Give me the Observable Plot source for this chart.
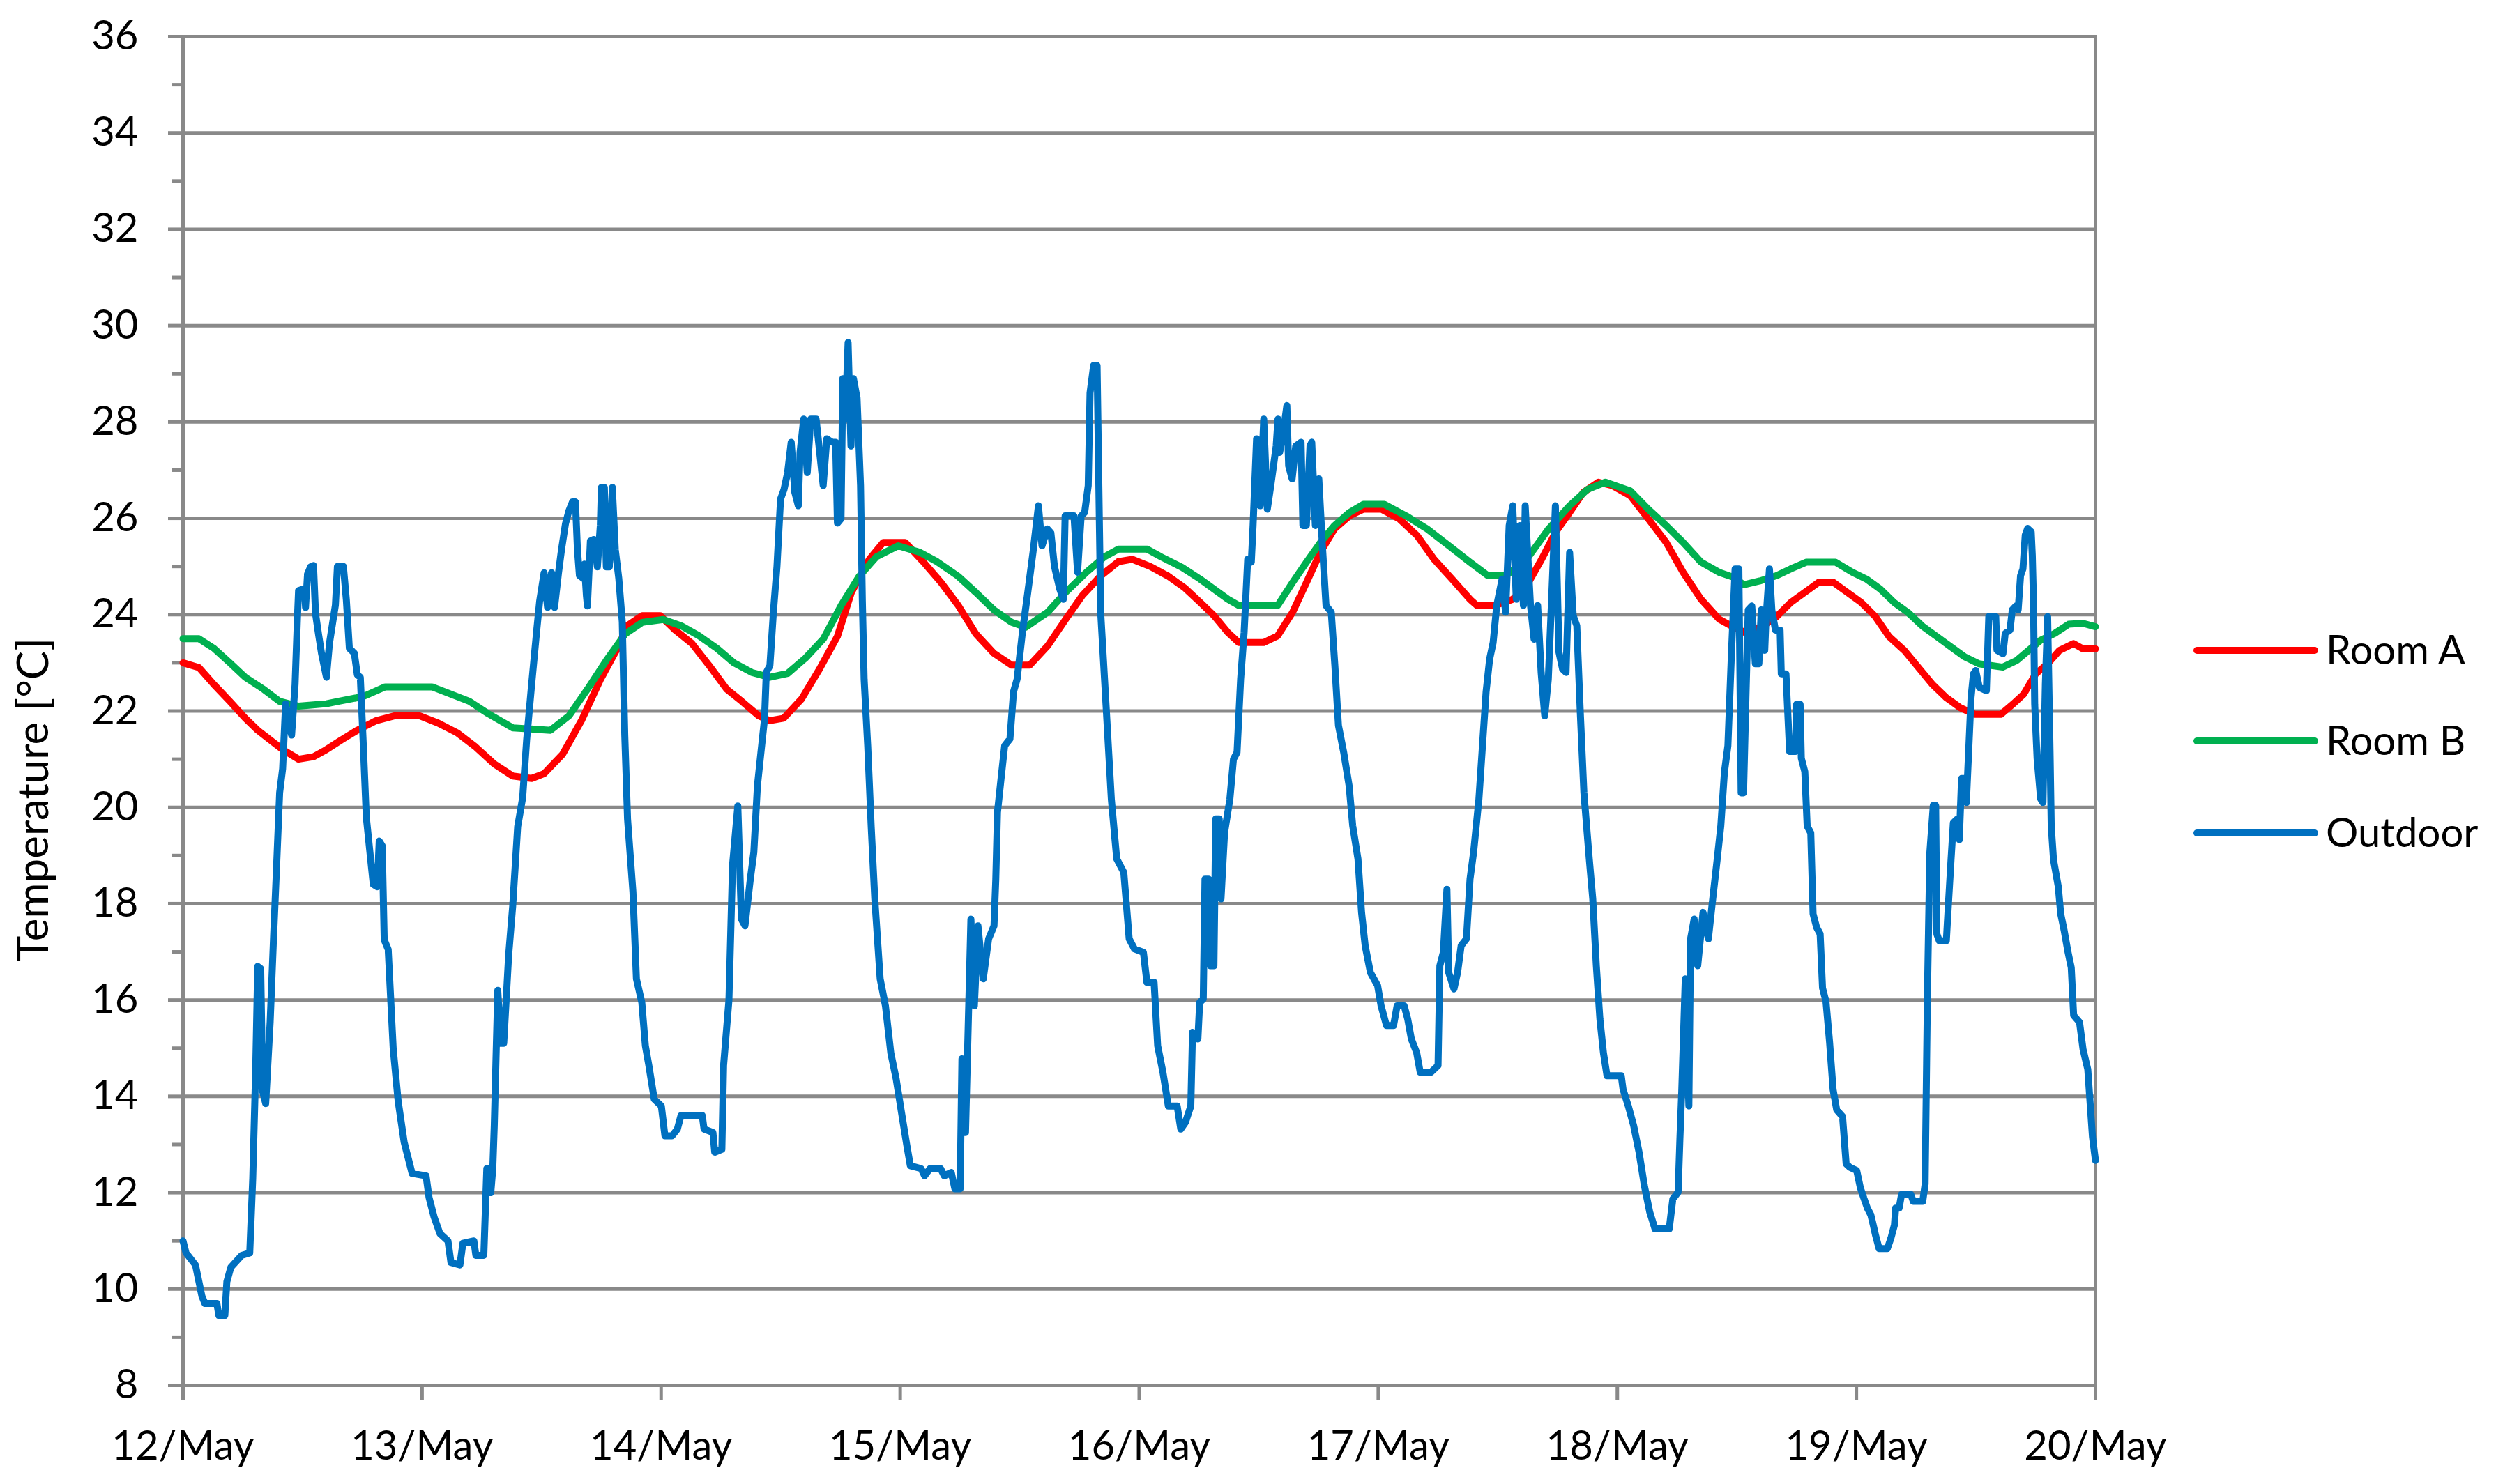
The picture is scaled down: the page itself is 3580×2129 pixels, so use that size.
<!DOCTYPE html>
<html>
<head>
<meta charset="utf-8">
<script src="https://cdn.jsdelivr.net/npm/d3@7"></script>
<script src="https://cdn.jsdelivr.net/npm/@observablehq/plot@0.6"></script>
<style>
  html, body { margin: 0; padding: 0; background: #fff; }
  #chart { position: relative; width: 3580px; height: 2129px; font-family: Lato, "Open Sans", sans-serif; }
  #legend { position: absolute; left: 0; top: 0; pointer-events: none; }
</style>
</head>
<body>
<div id="chart"></div>
<script>
// ---- data (hours since 12 May 00:00, temperature °C) ----
const seriesNames = ["Room A", "Room B", "Outdoor"];
const seriesColors = ["#FF0000", "#00B050", "#0070C0"];
const dayLabels = ["12/May", "13/May", "14/May", "15/May", "16/May", "17/May", "18/May", "19/May", "20/May"];
const yTickValues = [8, 10, 12, 14, 16, 18, 20, 22, 24, 26, 28, 30, 32, 34, 36];
const yMinorTicks = [9, 11, 13, 15, 17, 19, 21, 23, 25, 27, 29, 31, 33, 35];
const yTitle = "Temperature [°C]";

const roomA = [
[0,23.0],[1.6,22.9],[3.1,22.55],[4.7,22.2],[6.25,21.85],[7.5,21.6],[8.75,21.4],[10,21.2],[11.6,21.0],[13.1,21.05],
[14.4,21.2],[15.9,21.4],[17.5,21.6],[19.4,21.8],[21.25,21.9],[23.75,21.9],[25.6,21.75],[27.5,21.55],[29.4,21.25],
[31.25,20.9],[33.1,20.65],[35,20.6],[36.25,20.7],[38.1,21.1],[40,21.8],[41.9,22.65],[43.75,23.35],[44.6,23.77],
[46.1,23.98],[47.9,23.98],[49.3,23.7],[51.1,23.4],[52.8,22.95],[54.6,22.45],[56.1,22.2],[57.8,21.9],[58.9,21.8],
[60.3,21.85],[62.1,22.25],[63.9,22.87],[65.7,23.55],[67.1,24.46],[68.9,25.15],[70.3,25.5],[72.5,25.5],[74.3,25.1],
[76.1,24.67],[77.8,24.2],[79.6,23.6],[81.4,23.2],[83.2,22.95],[85,22.95],[86.8,23.35],[88.6,23.9],[90.3,24.4],
[92.1,24.8],[93.9,25.1],[95.3,25.15],[97.1,25.0],[98.9,24.8],[100.6,24.55],[102.1,24.26],[103.5,23.98],[104.9,23.63],
[106,23.42],[108.5,23.42],[109.9,23.56],[111.4,24.05],[112.8,24.67],[114.2,25.3],[115.6,25.78],[117.1,26.05],
[118.5,26.19],[120.3,26.19],[122.1,25.99],[123.9,25.64],[125.6,25.15],[127.4,24.74],[129.2,24.32],[129.9,24.19],
[131.7,24.19],[133.5,24.32],[134.9,24.6],[136.4,25.15],[137.8,25.71],[139.2,26.12],[140.6,26.54],[142.1,26.75],
[143.5,26.68],[145.3,26.47],[147.1,25.99],[148.9,25.5],[150.6,24.88],[152.4,24.32],[154.2,23.91],[155.6,23.75],
[156.9,23.62],[158.5,23.75],[160,23.96],[161.4,24.25],[162.8,24.46],[164.2,24.67],[165.7,24.67],[167.1,24.46],
[168.5,24.25],[169.9,23.96],[171.3,23.54],[172.8,23.26],[174.2,22.91],[175.6,22.56],[177,22.28],[178.4,22.07],
[179.9,21.93],[182.5,21.93],[183.7,22.14],[184.8,22.35],[186,22.77],[187.2,22.98],[188.4,23.26],[189.8,23.4],
[190.75,23.29],[192,23.29]
];

const roomB = [
[0,23.5],[1.6,23.5],[3.1,23.3],[4.7,23.0],[6.25,22.7],[8.1,22.45],[9.7,22.2],[11.6,22.1],[14.4,22.15],[15.6,22.2],
[18.1,22.3],[20.3,22.5],[25,22.5],[26.9,22.35],[28.75,22.2],[30.6,21.95],[33.1,21.65],[36.9,21.6],[38.75,21.9],
[40.6,22.45],[42.5,23.05],[44.4,23.6],[46.1,23.84],[48.2,23.9],[50,23.77],[51.8,23.56],[53.6,23.3],[55.3,23.0],
[57.1,22.8],[58.9,22.7],[60.7,22.78],[62.5,23.1],[64.3,23.5],[66.1,24.2],[67.9,24.8],[69.6,25.2],[71.8,25.43],
[73.9,25.3],[75.7,25.1],[77.8,24.8],[79.6,24.46],[81.4,24.1],[83.2,23.84],[84.6,23.74],[86.8,24.05],[88.6,24.46],
[90.7,24.88],[92.5,25.2],[93.9,25.36],[96.8,25.36],[98.2,25.2],[100.3,24.98],[102.1,24.74],[103.5,24.53],[104.9,24.32],
[106,24.19],[109.9,24.19],[111.4,24.67],[112.8,25.09],[114.2,25.5],[115.6,25.85],[117.1,26.12],[118.5,26.29],
[120.6,26.29],[122.8,26.05],[124.9,25.78],[127.1,25.43],[129.2,25.09],[131,24.81],[132.8,24.81],[134.9,25.15],
[137.1,25.78],[139.2,26.26],[141,26.6],[142.8,26.75],[145.3,26.57],[147.1,26.19],[148.9,25.85],[150.6,25.5],
[152.4,25.09],[154.2,24.88],[155.6,24.78],[156.7,24.62],[158.3,24.7],[160,24.81],[161.4,24.95],[163,25.09],
[165.9,25.09],[167.6,24.88],[169,24.74],[170.4,24.53],[171.8,24.25],[173.2,24.04],[174.7,23.75],[176.1,23.54],
[177.5,23.33],[178.9,23.12],[180.3,22.98],[182.7,22.91],[184.1,23.05],[185.3,23.26],[186.5,23.47],[187.9,23.61],
[189.3,23.8],[190.75,23.82],[192,23.75]
];

const outdoor = [
[0,11.0],[0.3,10.75],[1.25,10.5],[1.6,10.15],[1.9,9.85],[2.2,9.7],[3.4,9.7],[3.6,9.45],[4.2,9.45],[4.4,10.15],
[4.8,10.45],[5.9,10.7],[6.7,10.75],[7.0,12.3],[7.3,14.6],[7.5,16.7],[7.8,16.65],[8.0,14.1],[8.3,13.85],[8.75,15.55],
[9.1,17.35],[9.4,18.8],[9.7,20.3],[10.0,20.8],[10.3,22.15],[10.9,21.5],[11.25,22.55],[11.5,24.0],[11.6,24.5],
[12.2,24.54],[12.3,24.15],[12.5,24.84],[12.8,24.99],[13.1,25.02],[13.3,24.03],[13.6,23.6],[13.9,23.2],[14.4,22.7],
[14.7,23.4],[15.0,23.8],[15.3,24.2],[15.5,25.0],[16.1,25.0],[16.4,24.3],[16.7,23.3],[17.2,23.2],[17.5,22.75],
[17.8,22.7],[18.1,21.3],[18.4,19.8],[18.75,19.1],[19.1,18.4],[19.5,18.35],[19.7,19.3],[20.0,19.2],[20.2,17.25],
[20.6,17.05],[21.1,15.0],[21.6,13.9],[22.2,13.05],[23.0,12.4],[24.4,12.35],[24.7,11.9],[25.2,11.5],[25.8,11.15],
[26.6,11.0],[26.9,10.55],[27.8,10.5],[28.1,10.95],[29.2,11.0],[29.4,10.7],[30.2,10.7],[30.5,12.5],[30.9,12.0],
[31.1,12.5],[31.25,13.4],[31.6,16.2],[31.9,15.1],[32.2,15.1],[32.7,16.95],[33.1,17.95],[33.6,19.6],[34.1,20.2],
[34.5,21.4],[35.0,22.55],[35.5,23.65],[35.8,24.27],[36.25,24.87],[36.6,24.15],[37.0,24.87],[37.3,24.15],[37.7,24.87],
[38.0,25.35],[38.4,25.89],[38.75,26.16],[39.1,26.34],[39.4,26.34],[39.6,25.35],[39.8,24.81],[40.2,24.75],[40.3,25.05],
[40.5,24.39],[40.6,24.18],[40.9,25.53],[41.25,25.56],[41.6,24.99],[41.9,25.86],[42.0,26.64],[42.3,26.64],[42.5,24.99],
[42.8,24.99],[43.1,26.64],[43.4,25.35],[43.75,24.75],[44.1,23.85],[44.35,21.5],[44.63,19.76],
[45.17,18.24],[45.52,16.44],[46.06,15.95],[46.42,15.05],[46.77,14.64],[47.31,13.94],[48.02,13.8],[48.38,13.18],
[49.1,13.18],[49.63,13.32],[49.99,13.6],[52.13,13.6],[52.31,13.32],[53.2,13.25],[53.38,12.84],[54.1,12.9],
[54.27,14.64],[54.81,16.0],[55.17,18.8],[55.7,20.03],[56.06,17.68],[56.42,17.54],[56.95,18.5],[57.31,19.07],
[57.67,20.45],[58.02,21.14],[58.38,21.83],[58.56,22.8],[58.92,22.94],[59.27,24.05],[59.63,25.0],[59.99,26.4],
[60.34,26.6],[60.7,26.95],[61.06,27.58],[61.42,26.54],[61.77,26.26],[61.95,27.37],[62.31,28.06],[62.67,26.95],
[63.02,28.06],[63.56,28.06],[63.92,27.37],[64.27,26.68],[64.63,27.65],[65.17,27.58],[65.52,27.58],[65.7,25.9],
[66.06,25.99],[66.24,28.9],[66.49,28.06],[66.77,29.65],[67.06,27.5],[67.31,28.9],[67.67,28.5],[68.02,26.68],
[68.2,24.3],[68.38,22.66],[68.74,21.28],[69.09,19.6],[69.45,18.1],[69.99,16.44],[70.52,15.88],[71.06,14.9],
[71.6,14.36],[72.13,13.67],[72.67,12.98],[73.02,12.56],[74.1,12.5],[74.45,12.35],[74.99,12.5],[76.06,12.5],
[76.42,12.35],[77.13,12.42],[77.49,12.08],[78.02,12.08],[78.2,14.78],[78.56,13.25],[79.1,17.68],[79.45,15.88],
[79.81,17.54],[80.34,16.44],[80.88,17.27],[81.42,17.54],[81.6,18.51],[81.77,19.9],[82.13,20.6],[82.49,21.28],
[83.02,21.42],[83.38,22.4],[83.74,22.66],[84.27,23.63],[84.81,24.46],[85.34,25.3],[85.88,26.26],[86.24,25.43],
[86.77,25.78],[87.13,25.7],[87.49,25.0],[88.02,24.53],[88.38,24.32],[88.56,26.05],[89.45,26.05],[89.81,24.88],
[90.17,26.05],[90.52,26.12],[90.88,26.68],[91.06,28.6],[91.42,29.17],[91.77,29.17],[92.13,24.05],[92.67,22.11],
[93.2,20.17],[93.74,18.93],[94.45,18.65],[94.99,17.27],[95.52,17.06],[96.42,16.99],[96.77,16.37],[97.49,16.37],
[97.85,15.05],[98.38,14.5],[98.92,13.8],[99.81,13.8],[100.17,13.32],
[100.64,13.46],[101.18,13.8],[101.35,15.33],[101.89,15.19],[102.07,15.95],[102.43,16.02],[102.6,18.51],[102.96,18.51],
[103.14,16.71],[103.5,16.71],[103.68,19.76],[104.03,19.76],[104.21,18.1],[104.57,19.48],[105.1,20.17],[105.46,21.0],
[105.82,21.14],[106.18,22.66],[106.53,23.63],[106.89,25.15],[107.25,25.09],[107.43,25.85],[107.78,27.65],[108.14,26.26],
[108.5,28.06],[108.86,26.19],[109.21,26.68],[109.75,27.5],[109.93,28.06],[110.1,27.37],[110.46,27.79],[110.82,28.34],
[111.0,27.09],[111.35,26.82],[111.71,27.5],[112.25,27.58],[112.43,25.85],[112.78,25.85],[113.14,27.5],[113.32,27.58],
[113.68,25.85],[114.03,26.82],[114.39,25.43],[114.75,24.19],[115.28,24.05],[115.64,22.94],[116.0,21.7],[116.53,21.14],
[117.07,20.45],[117.43,19.62],[117.96,18.93],[118.32,17.82],[118.68,17.13],[119.21,16.57],[119.93,16.3],[120.28,15.88],
[120.82,15.47],[121.53,15.47],[121.89,15.88],[122.6,15.88],[122.96,15.6],[123.32,15.19],[123.85,14.91],[124.21,14.5],
[125.28,14.5],[126.0,14.64],[126.18,16.71],[126.53,16.99],[126.89,18.3],[127.07,16.57],[127.6,16.23],[127.96,16.57],
[128.32,17.13],[128.85,17.27],[129.21,18.51],[129.57,19.07],[130.1,20.17],[130.46,21.28],[130.82,22.39],[131.18,23.08],
[131.53,23.42],[131.89,24.19],[132.43,24.74],[132.78,24.05],[133.14,25.85],[133.5,26.26],[133.85,24.32],[134.21,25.85],
[134.57,24.19],[134.75,26.26],[135.28,24.19],[135.64,23.49],[136.0,24.19],[136.35,22.8],[136.71,21.9],[137.07,22.66],
[137.43,24.46],[137.78,26.26],[138.14,23.22],[138.5,22.87],[138.85,22.8],[139.21,25.29],[139.57,23.98],[139.93,23.77],
[140.28,21.97],[140.64,20.31],[141.18,18.93],[141.53,18.1],[141.89,16.71],[142.25,15.6],[142.6,14.91],[142.96,14.43],
[144.39,14.43],[144.57,14.15],[145.1,13.8],[145.64,13.39],[146.18,12.84],[146.71,12.15],[147.25,11.6],[147.78,11.25],
[149.21,11.25],[149.57,11.87],[150.1,12.01],[150.28,13.11],[150.46,14.08],[150.82,16.44],[151.18,13.8],[151.35,17.27],
[151.71,17.68],[152.07,16.71],[152.6,17.82],[153.14,17.27],[153.5,17.96],[154.03,18.93],[154.39,19.62],[154.75,20.73],
[155.1,21.28],[155.46,23.22],[155.82,24.95],
[156.2,24.95],[156.43,20.3],[156.67,20.3],[156.91,22.28],[157.14,24.1],[157.5,24.18],[157.85,22.98],[158.21,22.98],
[158.45,24.1],[158.8,23.26],[158.92,23.9],[159.27,24.95],[159.51,24.1],[159.87,23.68],[160.34,23.68],[160.46,22.77],
[160.93,22.77],[161.29,21.16],[161.88,21.16],[162.0,22.14],[162.35,22.14],[162.47,21.02],[162.82,20.74],[163.06,19.61],
[163.42,19.47],[163.65,17.79],[164.0,17.51],[164.36,17.37],[164.6,16.25],[164.95,15.96],[165.31,15.12],[165.66,14.14],
[166.02,13.72],[166.61,13.58],[166.97,12.6],[167.32,12.53],[168.03,12.46],[168.39,12.11],[168.74,11.89],[169.1,11.68],
[169.45,11.54],[169.69,11.33],[169.92,11.12],[170.28,10.84],[171.11,10.84],[171.46,11.05],[171.82,11.33],[171.94,11.68],
[172.29,11.68],[172.53,11.96],[173.47,11.96],[173.71,11.82],[174.66,11.82],[174.9,12.18],[175.13,16.1],[175.37,19.05],
[175.72,20.04],[175.96,20.04],[176.08,17.37],[176.32,17.23],[177.03,17.23],[177.26,18.07],[177.5,18.91],[177.73,19.68],
[178.09,19.75],[178.33,19.33],[178.56,20.6],[178.92,20.6],[179.04,20.1],[179.27,21.16],[179.51,22.28],[179.75,22.77],
[179.98,22.84],[180.34,22.49],[181.05,22.42],[181.29,23.96],[181.99,23.96],[182.11,23.26],[182.71,23.19],[182.94,23.61],
[183.42,23.68],[183.65,24.1],[184.01,24.18],[184.24,24.1],[184.48,24.81],[184.72,24.95],[184.95,25.65],[185.19,25.79],
[185.55,25.72],[185.66,25.23],[185.78,24.25],[185.9,22.14],[186.14,21.02],[186.49,20.18],[186.73,20.1],[186.97,22.56],
[187.2,23.96],[187.44,21.16],[187.56,19.61],[187.79,18.91],[188.27,18.35],[188.51,17.79],[188.86,17.44],[189.22,17.02],
[189.57,16.67],[189.81,15.68],[190.4,15.54],[190.75,14.98],[191.23,14.56],[191.7,13.16],[192,12.67]
];

// ---- build table ----
const START = Date.UTC(2015, 4, 12);
const toDate = h => new Date(START + h * 3600e3);
const table = [roomA, roomB, outdoor].flatMap((arr, i) =>
  arr.map(([h, v]) => ({series: seriesNames[i], time: toDate(h), temp: v})));
const xTicks = dayLabels.map((_, i) => toDate(24 * i));

const grid = "#898989";
const FS = 58;

const chart = Plot.plot({
  width: 3580,
  height: 2129,
  marginLeft: 262,
  marginRight: 575,
  marginTop: 52,
  marginBottom: 142,
  style: {fontFamily: "Lato, 'Open Sans', sans-serif", fontSize: FS + "px", color: "#000", background: "#fff"},
  x: {type: "utc", domain: [xTicks[0], xTicks[xTicks.length - 1]]},
  y: {domain: [8, 36]},
  color: {domain: seriesNames, range: seriesColors},
  marks: [
    Plot.gridY({ticks: yTickValues, stroke: grid, strokeOpacity: 1, strokeWidth: 5}),
    Plot.axisY({ticks: yMinorTicks, tickSize: 16, tickFormat: () => "", stroke: grid, strokeWidth: 5, label: null}),
    Plot.axisY({ticks: yTickValues, tickSize: 21, tickPadding: 43, stroke: grid, strokeWidth: 5, fill: "#000", fontSize: FS, label: null}),
    Plot.axisX({ticks: xTicks, tickSize: 21, tickPadding: 44, stroke: grid, strokeWidth: 5, fill: "#000", fontSize: FS,
                tickFormat: (d, i) => dayLabels[i], label: null}),
    Plot.frame({stroke: grid, strokeWidth: 5}),
    Plot.line(table, {x: "time", y: "temp", z: "series", stroke: "series", strokeWidth: 10,
                      strokeLinejoin: "round", strokeLinecap: "round"}),
    Plot.text([yTitle], {text: d => d, frameAnchor: "left", rotate: -90, dx: -213, dy: 127,
                         fontSize: 62, fill: "#000", textAnchor: "middle", lineAnchor: "middle"})
  ]
});

const root = document.getElementById("chart");
root.appendChild(chart);

// ---- legend (right of the plot) ----
const legendRows = [933, 1063, 1195];
const legend = d3.select(root).append("svg")
  .attr("id", "legend")
  .attr("width", 3580).attr("height", 2129);
seriesNames.forEach((name, i) => {
  const g = legend.append("g").attr("transform", `translate(3151,${legendRows[i]})`);
  g.append("line").attr("x1", 0).attr("x2", 169).attr("y1", 0).attr("y2", 0)
    .attr("stroke", seriesColors[i]).attr("stroke-width", 10).attr("stroke-linecap", "round");
  g.append("text").attr("x", 185).attr("y", 0).attr("dy", "0.35em")
    .attr("font-family", "Lato, 'Open Sans', sans-serif").attr("font-size", FS)
    .attr("fill", "#000").text(name);
});
</script>
</body>
</html>
